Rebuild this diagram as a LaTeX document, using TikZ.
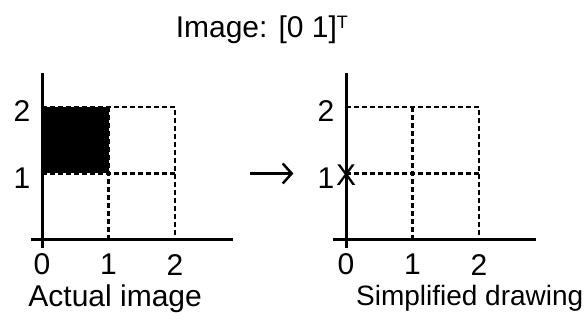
\documentclass[tikz,border=0pt]{standalone}
\usepackage{fontspec}
\setmainfont{Liberation Sans}
\usetikzlibrary{arrows.meta}
\tikzset{every node/.append style={font=\fontsize{30}{36}\selectfont, inner sep=0pt}}
\tikzset{axis/.style={line width=3pt}}
\tikzset{gridline/.style={line width=2.8pt, dash pattern=on 5pt off 3pt}}

\begin{document}
\begin{tikzpicture}[x=66.5pt,y=66.5pt]
\useasboundingbox (-0.632,-1.368) rectangle (8.15,3.609);
% title
\node (title) at (3.31,3.16) {Image: [0 1]\textsuperscript{\fontsize{18}{20}\selectfont T}};
% actual image
\fill[black] (0,1) rectangle (1,2);
\draw[gridline] (0,2) -- (2,2) -- (2,0);
\draw[gridline] (0,1) -- (2,1);
\draw[gridline] (1,2) -- (1,0);
\draw[axis] (0,-0.12) -- (0,2.51);
\draw[axis] (-0.165,0) -- (2.87,0);
\node (ly2) at (-0.3,1.94) {2};
\node (ly1) at (-0.3,0.93) {1};
\node (lx0) at (0,-0.37) {0};
\node (lx1) at (1,-0.37) {1};
\node (lx2) at (2,-0.37) {2};
\node (capA) at (1.1,-0.88) {Actual image};
% arrow
\coordinate (arrS) at (3.13,1);
\coordinate (arrE) at (3.78,1);
\draw[line width=2.5pt, -{Straight Barb[length=9pt,width=20pt]}] (arrS) -- (arrE);
% simplified drawing
\begin{scope}[xshift=304pt]
\draw[gridline] (0,2) -- (2,2) -- (2,0);
\draw[gridline] (0,1) -- (2,1);
\draw[gridline] (1,2) -- (1,0);
\draw[axis] (0,-0.12) -- (0,2.51);
\draw[axis] (-0.195,0) -- (2.86,0);
\node (ry2) at (-0.3,1.94) {2};
\node (ry1) at (-0.3,0.93) {1};
\node (mark) at (0,0.97) {X};
\node (rx0) at (0,-0.37) {0};
\node (rx1) at (1,-0.37) {1};
\node (rx2) at (2,-0.37) {2};
\node[font=\fontsize{28}{33}\selectfont] (capS) at (1.86,-0.88) {Simplified drawing};
\end{scope}
\end{tikzpicture}
\end{document}
